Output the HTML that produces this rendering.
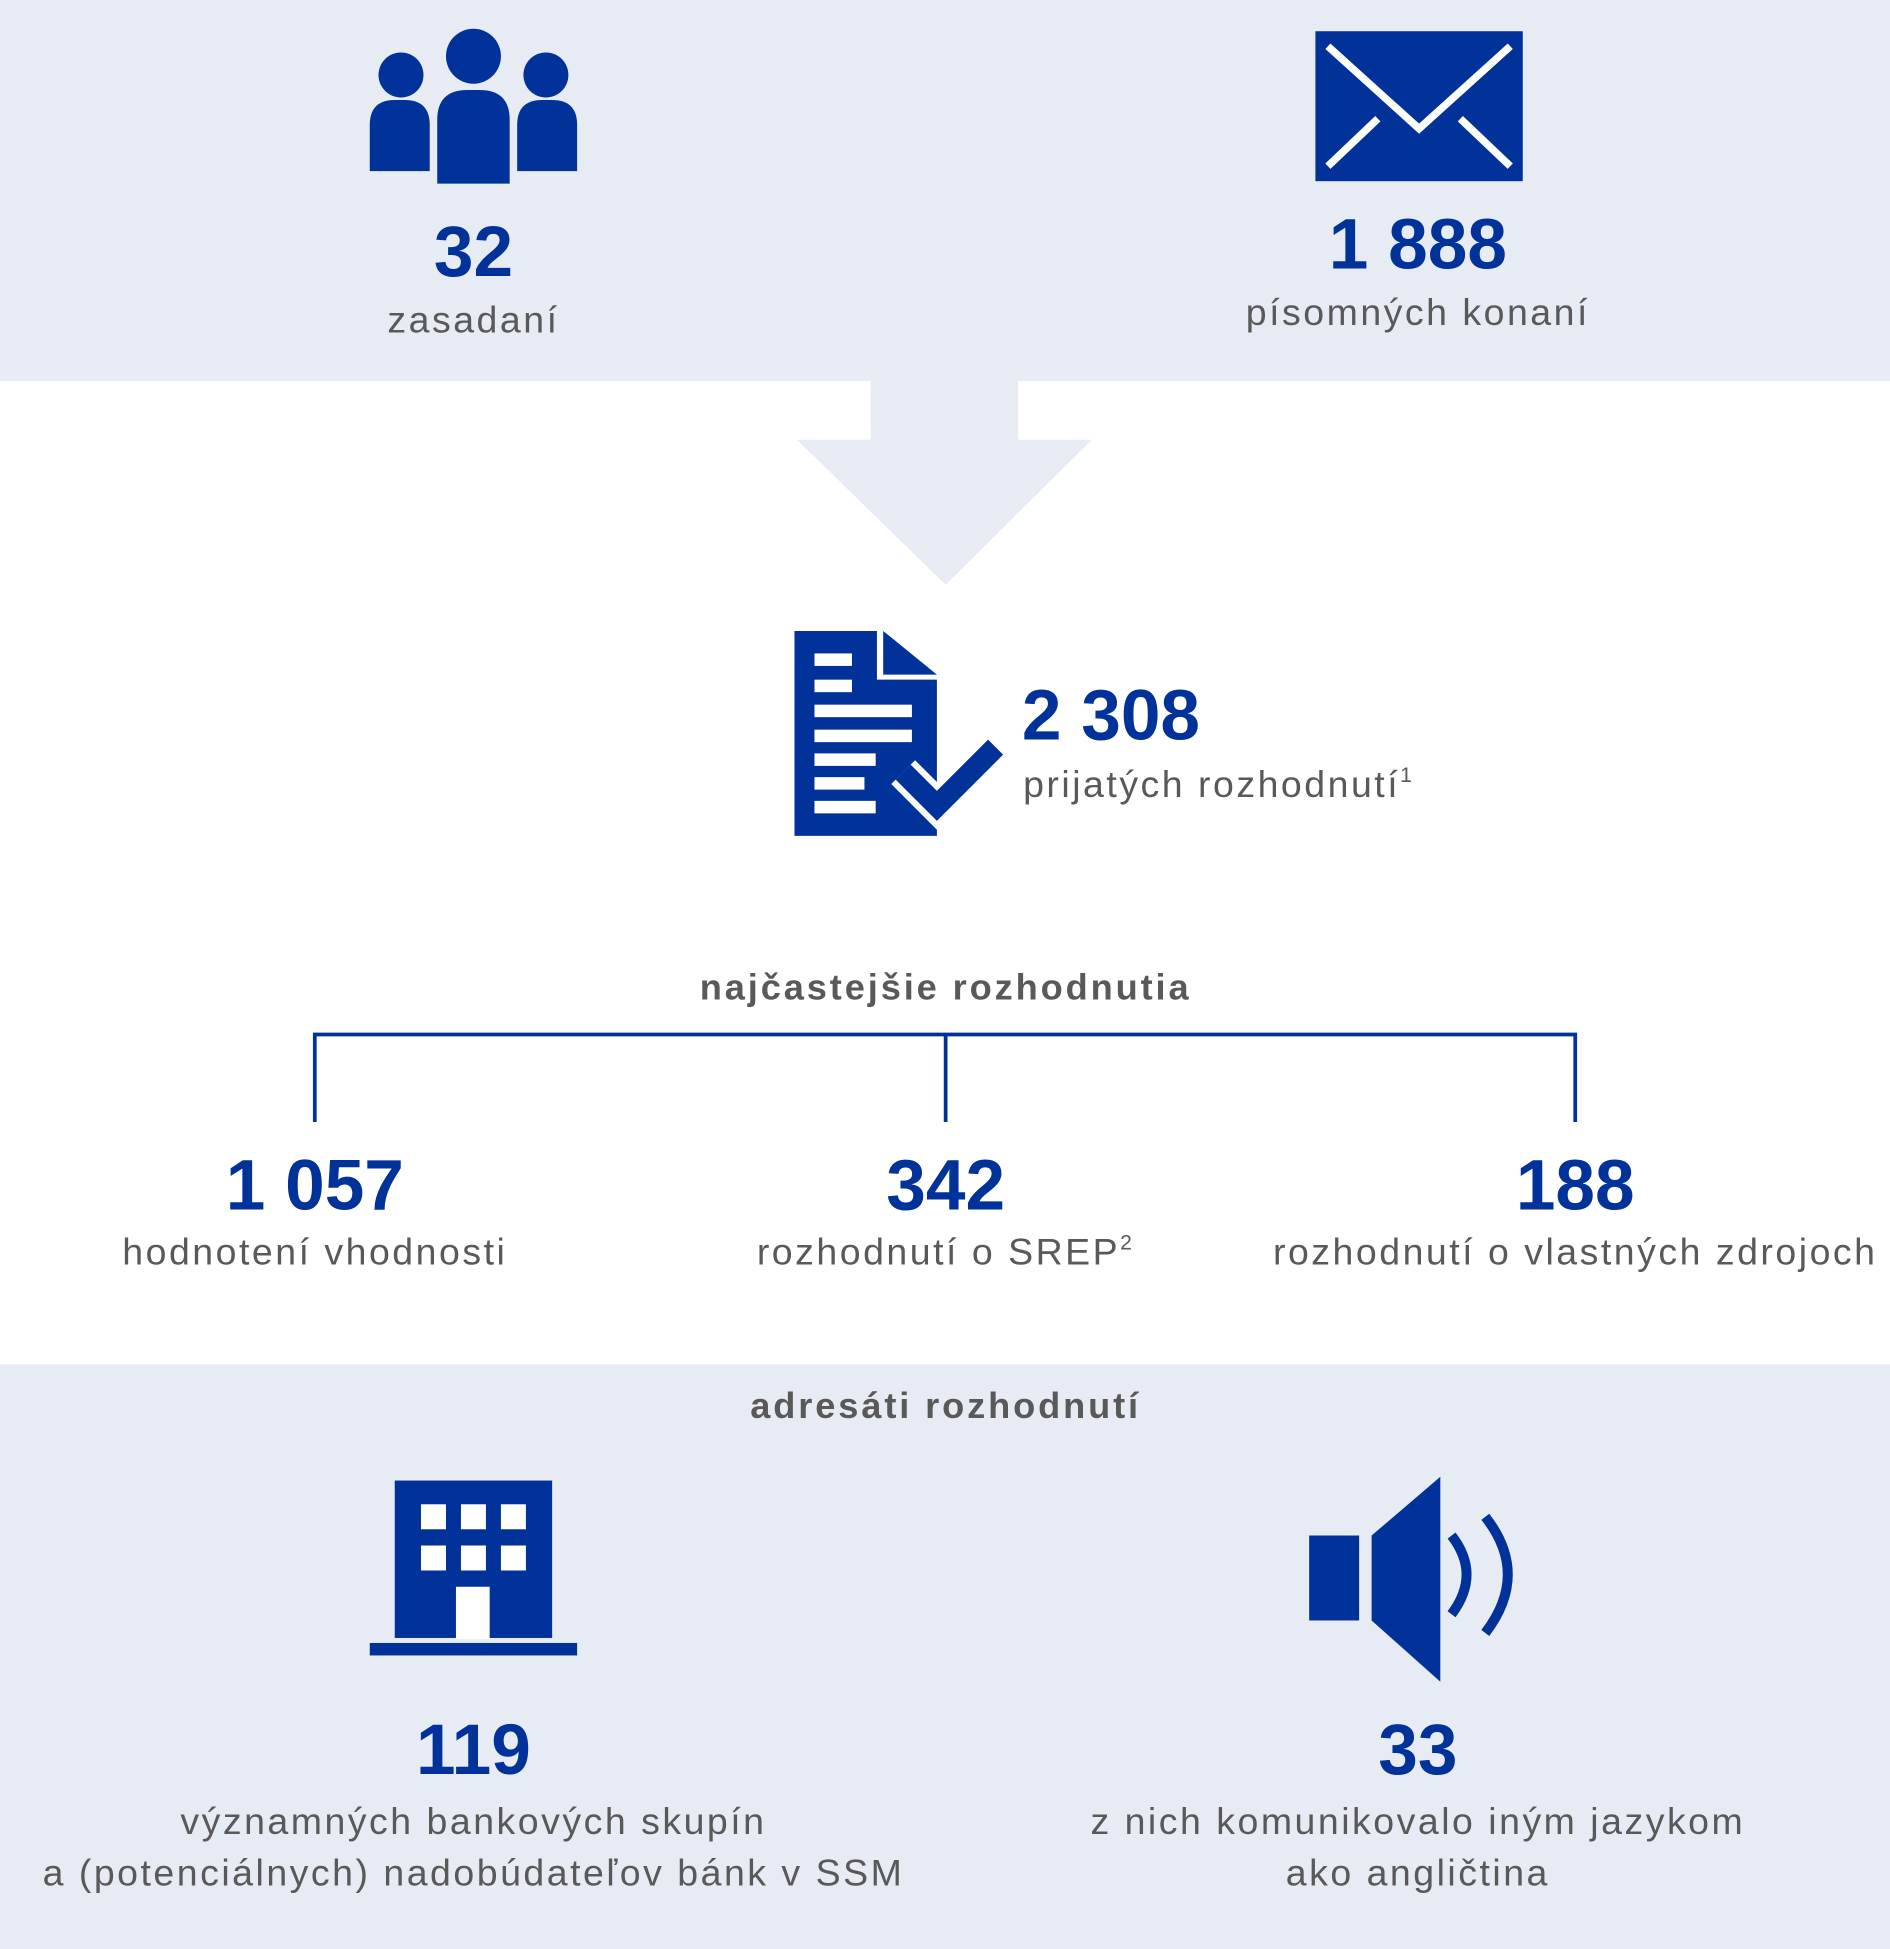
<!DOCTYPE html>
<html><head><meta charset="utf-8"><style>
html,body{margin:0;padding:0;background:#fff;}
#w{width:1513px;height:1560px;position:relative;transform:scale(1.2492,1.2494);transform-origin:0 0;font-family:"Liberation Sans",Arial,sans-serif;}
.t{position:absolute;white-space:nowrap;transform:translateX(-50%);text-align:center;}
.n{font-weight:bold;font-size:57px;color:#003299;line-height:1;}
.l{font-size:30px;color:#595959;line-height:1;letter-spacing:2px;}
.h{font-size:29px;color:#595959;font-weight:bold;line-height:1;letter-spacing:2.3px;}
sup{font-size:17px;vertical-align:12px;line-height:0;}
</style></head><body><div id="w">
<svg width="1513" height="1560" style="position:absolute;left:0;top:0">
<rect x="0" y="0" width="1513" height="305" fill="#e6ebf4"/>
<rect x="0" y="1092" width="1513" height="468" fill="#e6ebf4"/>
<polygon points="697,305 815,305 815,352 874,352 757,468 638,352 697,352" fill="#e6ebf4"/>
<g fill="#003299">
<circle cx="321" cy="60" r="18"/><circle cx="379" cy="45" r="22"/><circle cx="437" cy="60" r="18"/>
<path d="M296,137 V100 Q296,80 316,80 H324 Q344,80 344,100 V137Z"/>
<path d="M350,147 V96 Q350,72 374,72 H384 Q408,72 408,96 V147Z"/>
<path d="M414,137 V100 Q414,80 434,80 H442 Q462,80 462,100 V137Z"/>
<rect x="1053" y="25" width="166" height="120"/>
<polygon points="636,505 702,505 702,544 750,544 750,669 636,669"/>
<polygon points="707,505 750,540 707,540"/>
<rect x="316" y="1185" width="126" height="126"/>
<rect x="296" y="1315" width="166" height="10"/>
<rect x="1048" y="1229" width="40" height="68"/>
<polygon points="1098,1229 1153,1182 1153,1346 1098,1297"/>
</g>
<g stroke="#fff" stroke-width="6" fill="none">
<polyline points="1063,37 1136,103 1209,37"/>
<line x1="1063" y1="133" x2="1103" y2="95"/><line x1="1209" y1="133" x2="1169" y2="95"/>
</g>
<g fill="#fff">
<rect x="652" y="523" width="30" height="10"/><rect x="652" y="544" width="30" height="10"/>
<rect x="652" y="564" width="78" height="10"/><rect x="652" y="584" width="78" height="10"/>
<rect x="652" y="603" width="49" height="10"/><rect x="652" y="622" width="40" height="10"/>
<rect x="652" y="641" width="49" height="10"/>
<rect x="337" y="1204" width="20" height="20"/><rect x="369" y="1204" width="20" height="20"/><rect x="401" y="1204" width="20" height="20"/>
<rect x="337" y="1237" width="20" height="20"/><rect x="369" y="1237" width="20" height="20"/><rect x="401" y="1237" width="20" height="20"/>
<rect x="365" y="1270" width="27" height="42"/>
</g>
<polyline points="723,618 750,645 797,598" stroke="#fff" stroke-width="27" fill="none"/>
<polyline points="723,618 750,645 797,598" stroke="#003299" stroke-width="17" fill="none"/>
<g stroke="#003299" stroke-width="8" fill="none">
<path d="M1162,1229 Q1186,1260 1162,1292"/>
<path d="M1189,1214 Q1225,1260 1189,1307"/>
</g>
<g stroke="#003299" stroke-width="3" fill="none">
<polyline points="252,898 252,828 1261,828 1261,898"/><line x1="757" y1="828" x2="757" y2="898"/>
</g>
</svg>
<div class="t n" style="left:379px;top:174px">32</div>
<div class="t l" style="left:379px;top:242px">zasadaní</div>
<div class="t n" style="left:1135px;top:168px">1 888</div>
<div class="t l" style="left:1135px;top:236px">písomných konaní</div>
<div class="n" style="position:absolute;left:818px;top:545px">2 308</div>
<div class="l" style="position:absolute;left:819px;top:614px;white-space:nowrap">prijatých rozhodnutí<sup>1</sup></div>
<div class="t h" style="left:757px;top:777px">najčastejšie rozhodnutia</div>
<div class="t n" style="left:252px;top:921px">1 057</div>
<div class="t l" style="left:252px;top:988px">hodnotení vhodnosti</div>
<div class="t n" style="left:757px;top:921px">342</div>
<div class="t l" style="left:757px;top:988px">rozhodnutí o SREP<sup>2</sup></div>
<div class="t n" style="left:1261px;top:921px">188</div>
<div class="t l" style="left:1261px;top:988px">rozhodnutí o vlastných zdrojoch</div>
<div class="t h" style="left:757px;top:1112px">adresáti rozhodnutí</div>
<div class="t n" style="left:379px;top:1373px">119</div>
<div class="t l" style="left:379px;top:1438px;line-height:41px">významných bankových skupín<br>a (potenciálnych) nadobúdateľov bánk v SSM</div>
<div class="t n" style="left:1135px;top:1373px">33</div>
<div class="t l" style="left:1135px;top:1438px;line-height:41px">z nich komunikovalo iným jazykom<br>ako angličtina</div>
</div></body></html>
